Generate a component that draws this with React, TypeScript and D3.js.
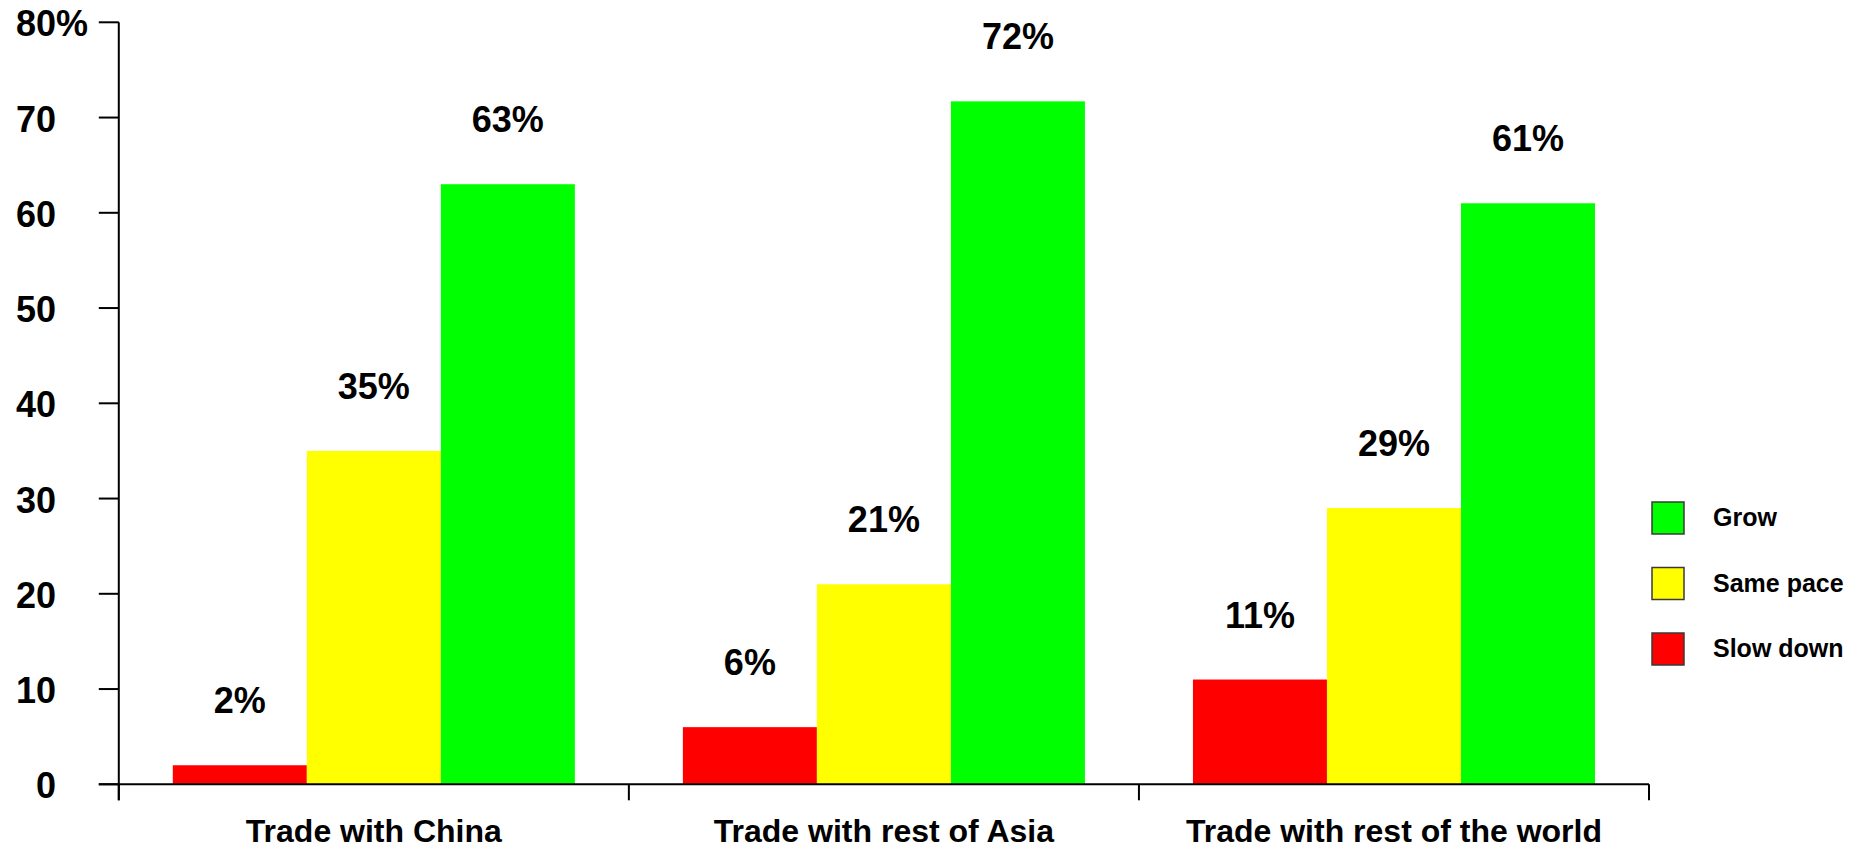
import React from "react";
import * as d3 from "d3";

const categories = ["Trade with China", "Trade with rest of Asia", "Trade with rest of the world"];
const seriesNames = ["Slow down", "Same pace", "Grow"];
const seriesColors = ["#FF0000", "#FFFF00", "#00FF00"];
const slowDown = [2, 6, 11];
const samePace = [35, 21, 29];
const grow = [63, 71.7, 61];
const yTicks = [0, 10, 20, 30, 40, 50, 60, 70, 80];
const legendOrder = ["Grow", "Same pace", "Slow down"];

const W = 1863;
const H = 849;
const FONT = "'Liberation Sans', Arial, Helvetica, sans-serif";

export default function App() {
  const seriesValues = [slowDown, samePace, grow];
  const x = d3.scaleBand<string>().domain(categories).range([118.8, 1649]).padding(0);
  const xi = d3
    .scaleBand<string>()
    .domain(seriesNames)
    .range([0, x.bandwidth()])
    .paddingInner(0)
    .paddingOuter(0.403);
  const y = d3.scaleLinear().domain([0, 80]).range([784.3, 22.3]);
  const x0 = x.range()[0];
  const x1 = x.range()[1];
  const boundaries = [...categories.map((c) => x(c) as number), x1];

  return (
    <svg
      width={W}
      height={H}
      style={{ position: "absolute", left: 0, top: 0, display: "block", background: "#fff" }}
      fontFamily={FONT}
      fontWeight="bold"
    >
      <rect x={0} y={0} width={W} height={H} fill="#fff" />
      {/* bars */}
      {categories.map((c, ci) =>
        seriesNames.map((s, si) => {
          const v = seriesValues[si][ci];
          const bx = (x(c) as number) + (xi(s) as number);
          return (
            <g key={c + s}>
              <rect
                x={bx}
                y={y(v)}
                width={xi.bandwidth()}
                height={y(0) - y(v)}
                fill={seriesColors[si]}
              />
              <text
                x={bx + xi.bandwidth() / 2}
                y={y(v) - 52}
                textAnchor="middle"
                fontSize={36}
                fill="#000"
              >
                {Math.round(v)}%
              </text>
            </g>
          );
        })
      )}
      {/* y axis */}
      <line x1={x0} x2={x0} y1={y(80)} y2={y(0) + 16} stroke="#000" strokeWidth={2} />
      {yTicks.map((t) => (
        <g key={t}>
          <line x1={x0 - 20} x2={x0} y1={y(t)} y2={y(t)} stroke="#000" strokeWidth={2} />
          <text x={56} y={y(t) + 14} textAnchor="end" fontSize={36} fill="#000">
            {t}
          </text>
          {t === 80 && (
            <text x={56} y={y(t) + 14} textAnchor="start" fontSize={36} fill="#000">
              %
            </text>
          )}
        </g>
      ))}
      {/* x axis */}
      <line x1={x0 - 20} x2={x1} y1={y(0)} y2={y(0)} stroke="#000" strokeWidth={2} />
      {boundaries.map((b, i) => (
        <line key={i} x1={b} x2={b} y1={y(0)} y2={y(0) + 16} stroke="#000" strokeWidth={2} />
      ))}
      {categories.map((c) => (
        <text
          key={c}
          x={(x(c) as number) + x.bandwidth() / 2}
          y={842}
          textAnchor="middle"
          fontSize={32}
          fill="#000"
        >
          {c}
        </text>
      ))}
      {/* legend */}
      {legendOrder.map((name, i) => {
        const si = seriesNames.indexOf(name);
        const ly = 502 + i * 65.5;
        return (
          <g key={name}>
            <rect
              x={1652}
              y={ly}
              width={32}
              height={32}
              fill={seriesColors[si]}
              stroke="#3a3a3a"
              strokeWidth={1.5}
            />
            <text x={1713} y={ly + 24} fontSize={25} fill="#000">
              {name}
            </text>
          </g>
        );
      })}
    </svg>
  );
}
